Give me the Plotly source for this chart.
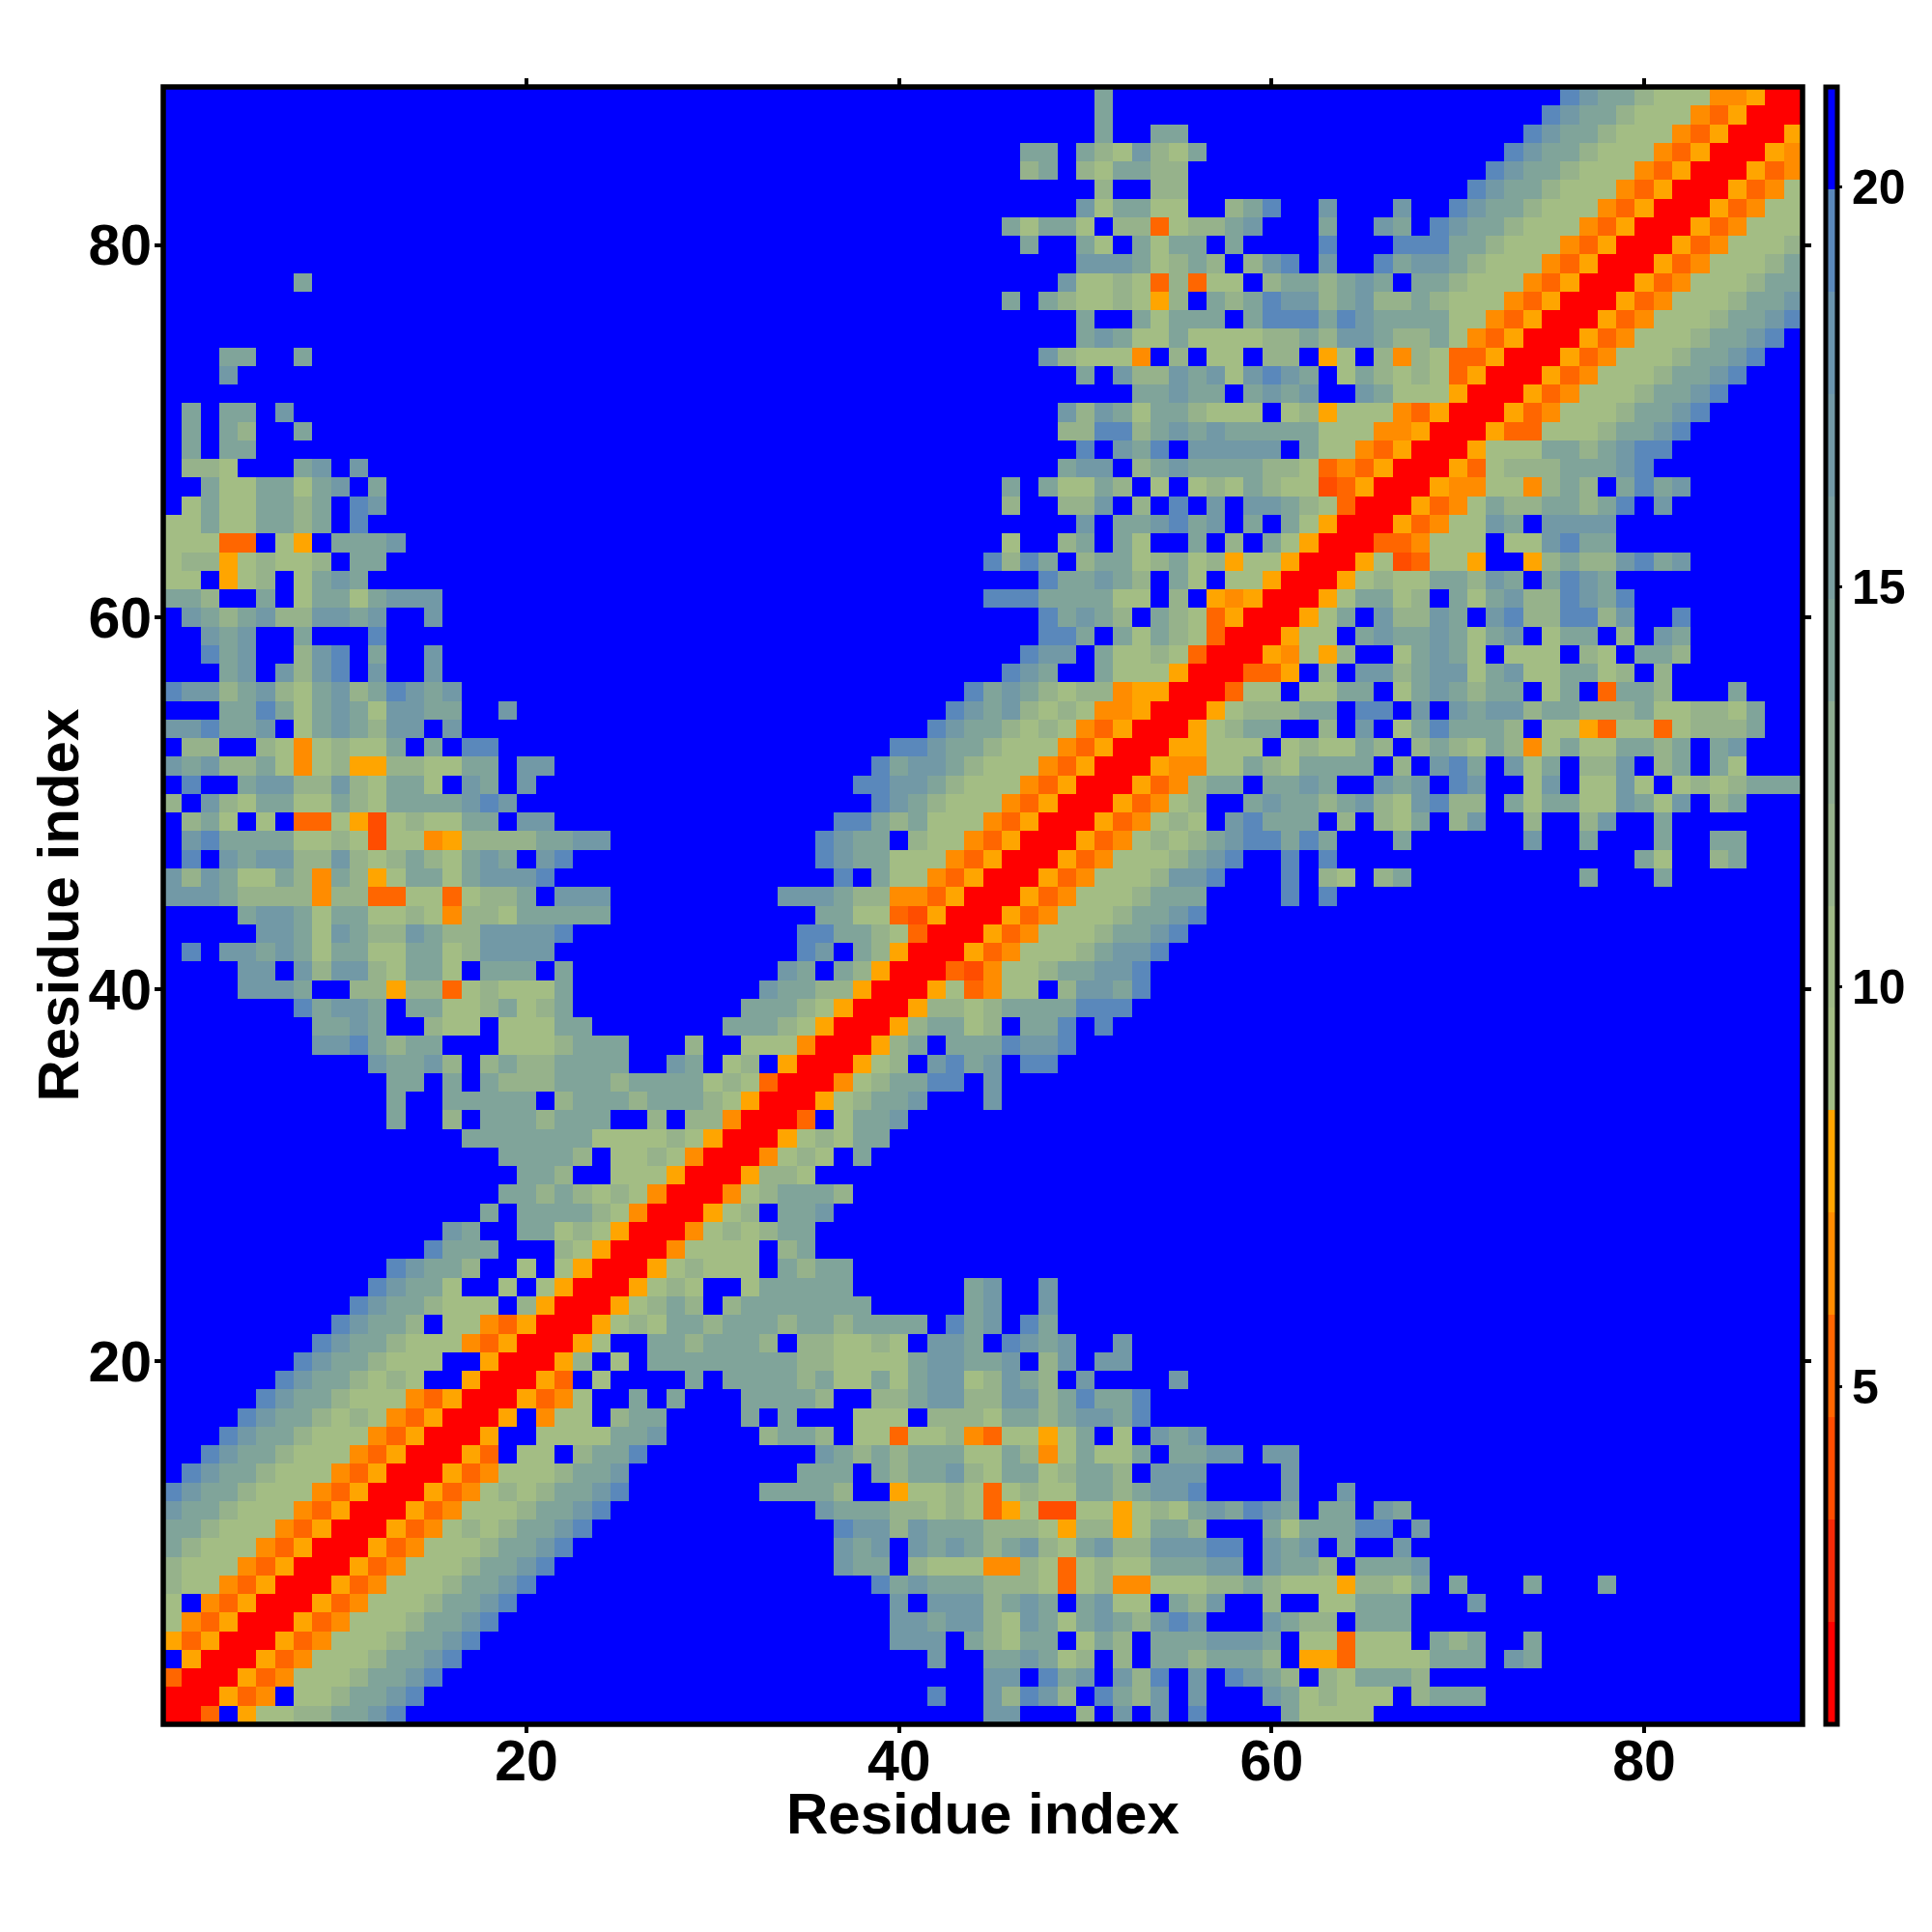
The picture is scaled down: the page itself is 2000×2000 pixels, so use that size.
import plotly.graph_objects as go

# Residue indices
residues = list(range(1, 89))
# Upper triangle of the symmetric distance map, row by row: "first_column:codes"
# R..A = reds/oranges (short distance), g..k = green to blue-grey, . = beyond cut-off
rows = [
"1:RRO.Agghhiijk 45:jj...h.j.j.k....igggg",
"2:RRAOo.gghiijk 42:k 45:jhkjh.kihj.j...jighggg.hiii",
"3:RRAOoggghiijk 45:jj.kij.jhk.j.kjih.hgiiih",
"4:RRAOoggghiijk 42:j 45:iijigh.h.iihiiih.AAOggggiii.ji",
"5:RRAOoggghiijk 40:jjj.ihgii.gih.iiijjji.ggOggg.ihi..i",
"6:RRAOoggghiijk 40:jjijjhgjigijihjkj...jihh.iii",
"7:RRAOoggghiijk 40:j.jjjhiji.ijgg.ihj..h..ggiii...j",
"8:RRAOoggghiijk 39:kijiiihhhgOghooggghhihgggAhhgi.i...i 78:i",
"9:RRAOoggghiijk 37:jii.hgggoohgOghggiiijj.jiih.iiij",
"10:RRAOoggghiijk 37:jij.jijihijhgijhhjjjkk.jij.i..j",
"11:RRAOoghghiijk 37:kjjhjiiihhhgAhhAgiih...igiiikk.j",
"12:RRAOoggghiijk 36:jiiihhghgOAgDDggAghgijikji.ii.ji",
"13:RRAOoghghiijk 33:iiiih..AgghgOghggiihijjk....j..j",
"14:RRAOoggghiij 35:iii.ihiijhgiighiih.jjj....j",
"15:RRAO.gg.hiik 36:jihihiiiggihogiggi.iijj.jj",
"16:RRA..ggggiij 33:hiih.ggOgghoOggAgi.g.jij",
"17:RRA.ogg.hii 32:i.i...ggg.hhhgiihijjik",
"18:RRAOog..i.i 32:iiiih..hhijjhhjjhikiik",
"19:RRAO.g....i.iiiihiggigijjghjih.j....j",
"20:RRAh.g.iiiiiiiihhggggijjiij.hj.jj",
"21:RRAg..iihiiih.hhgghg.jji.kjij..j",
"22:RRAghgiihiiihiihiiii.kij.ki",
"23:RRAghih.hiiiiiii.....ij..j",
"24:RRAghg..giiiii 44:ij..j",
"25:RRAghggg.ihii",
"26:RRogggg.hi",
"27:RRoghghii",
"28:RRAgh.iij",
"29:RRoghiiih",
"30:RRAhhg",
"31:RRoghg.i",
"32:RRAghgii",
"33:RRO.giij",
"34:RRAghiij 45:j",
"35:RRoghiikk.j",
"36:RRAgh.jkij.kk",
"37:RRAhi.iiikjjk",
"38:RRAhiigh.iik.k",
"39:RRAhhghiiiikkk",
"40:RRAgOogg.hjjik",
"41:RRODogghiijjk",
"42:RRAOoggghijjk",
"43:RRAOoggghiijk",
"44:RRAOoggghiijk",
"45:RRAOoggghiii 61:k.k",
"46:RRAOoggghjjk 61:k.hg.hi 77:i...i",
"47:RRAOoggghijk 61:k.k 80:ig..hi",
"48:RRAOoghghijkkiki...i 74:j..i...i..ii",
"49:RRAOoghg.jkiii.h.hgi.hj..h..hj..i",
"50:RRAOogh..ijiihijhgjkhh.igiiggjigj.hi",
"51:RRAOohii.iiji..jij.kj..gj.ggjg.ghghiii",
"52:RRAooggihgiiii.h.jki.jgi.hhj.hi.ig",
"53:RRAAggg.ghggih.hihgihogiggiihi.ij",
"54:RRAghii..h.j.gikiiih.ggAOggOghhhi",
"55:RRAghhhii.kk.j.jijjhiihhhigghhgi",
"56:RROgg.ggii.gijihii.gi.Oiih...i",
"57:RROOA.h.jjhijjgijggiigh.h",
"58:RRAogAh..gijig.ggg.hg.iih",
"59:RRAgg.ijiijigij.gii.h.ji",
"60:RRAgi.jhhji.jkhhkkhj..k",
"61:RRAgiigh.igijhhkjik",
"62:RRAghggiihji.ikji",
"63:RRAgDOggA..Ahihhjkij",
"64:RROOoggg.ggjkii",
"65:RRAOoggji.jjjj",
"66:RRAOogihhiihik.j",
"67:RRAooggohih.ikij",
"68:RRAOghhhiiijk",
"69:RRAgggiihijkk",
"70:RRAOOggghiijk",
"71:RRAOoggghiijk",
"72:RRAOoggghiijk",
"73:RRAOoggghiijk",
"74:RRAOoggghiijk",
"75:RRAOoggghiijk",
"76:RRAOoggghiijk",
"77:RRAOoggghiij",
"78:RRAOoggghii",
"79:RRAOoggghi",
"80:RRAOoggghh",
"81:RRAOoggg",
"82:RRAOogg",
"83:RRAOog",
"84:RRAOo",
"85:RRAo",
"86:RRA",
"87:RR",
"88:R",
]
# Distance (Angstrom) for every code
code_values = {"R": 1.42, "D": 3.98, "O": 5.26, "o": 6.54, "A": 7.82,
               "g": 9.1, "h": 11.66, "i": 14.22, "j": 16.78, "k": 19.34, ".": 20.62}
z_min, z_max = 0.78, 21.256
band_colors = ["#ff0000", "#f52a08", "#ff4d00", "#ff6600", "#ff8c00", "#ffa500",
               "#a3bd84", "#9fb986", "#96b28b", "#8eac91", "#80a49a", "#7a9fa0",
               "#7299a6", "#6a94ad", "#5a88bb", "#0000ff"]
x_ticks = [20, 40, 60, 80]
bar_ticks = [5, 10, 15, 20]
axis_title = "Residue index"

n = len(residues)
z = [[code_values["."]] * n for _ in range(n)]
for row in rows:
    r = int(row.split(":")[0])
    for seg in row.split():
        col, codes = seg.split(":")
        for k, ch in enumerate(codes):
            c = int(col) + k
            if c <= n:
                z[r - 1][c - 1] = code_values[ch]
                z[c - 1][r - 1] = code_values[ch]

m = len(band_colors)
scale = []
for i, col in enumerate(band_colors):
    scale.append([i / m, col])
    scale.append([(i + 1) / m, col])

L, R, T, B = 169, 1866, 90, 1785.5
font = "Liberation Sans"
fig = go.Figure(go.Heatmap(
    x=residues, y=residues, z=z, zmin=z_min, zmax=z_max, colorscale=scale,
    hoverongaps=False,
    colorbar=dict(
        thickness=11.5, thicknessmode="pixels", len=1, lenmode="fraction",
        x=(1889.5 - L) / (R - L), xanchor="left", xpad=0, y=0.5, yanchor="middle", ypad=0,
        outlinewidth=5, outlinecolor="black", borderwidth=0,
        tickvals=bar_ticks, ticks="outside", ticklen=3, tickwidth=3, tickcolor="black",
        tickfont=dict(family=font, size=50, color="black", weight="bold"),
    ),
))
axis = dict(
    range=[0.5, 88.5], tickvals=x_ticks, ticks="outside", ticklen=8, tickwidth=4,
    tickcolor="black", showline=False, mirror="ticks",
    showgrid=False, zeroline=False,
    tickfont=dict(family=font, size=59, color="black", weight="bold"),
)
title_font = dict(family=font, size=60, color="black", weight="bold")
fig.update_layout(
    width=2000, height=2000, autosize=False,
    margin=dict(l=L, r=2000 - R, t=T, b=2000 - B, pad=0),
    paper_bgcolor="white", plot_bgcolor="#0000ff",
    xaxis=dict(axis, ticklabelstandoff=-22),
    yaxis=dict(axis, ticklabelstandoff=-9),
    shapes=[dict(type="rect", xref="paper", yref="paper", x0=0, x1=1, y0=0, y1=1,
                 line=dict(color="black", width=5.5), layer="above")],
    annotations=[
        dict(text=axis_title, xref="paper", yref="paper", x=0.5, y=0, yshift=-92,
             xanchor="center", yanchor="middle", showarrow=False, font=title_font),
        dict(text=axis_title, xref="paper", yref="paper", x=0, y=0.5, xshift=-109,
             xanchor="center", yanchor="middle", textangle=-90, showarrow=False, font=title_font),
    ],
)
fig.write_html("out.html", config={"displayModeBar": False},
               post_script="document.body.style.margin='0';")
